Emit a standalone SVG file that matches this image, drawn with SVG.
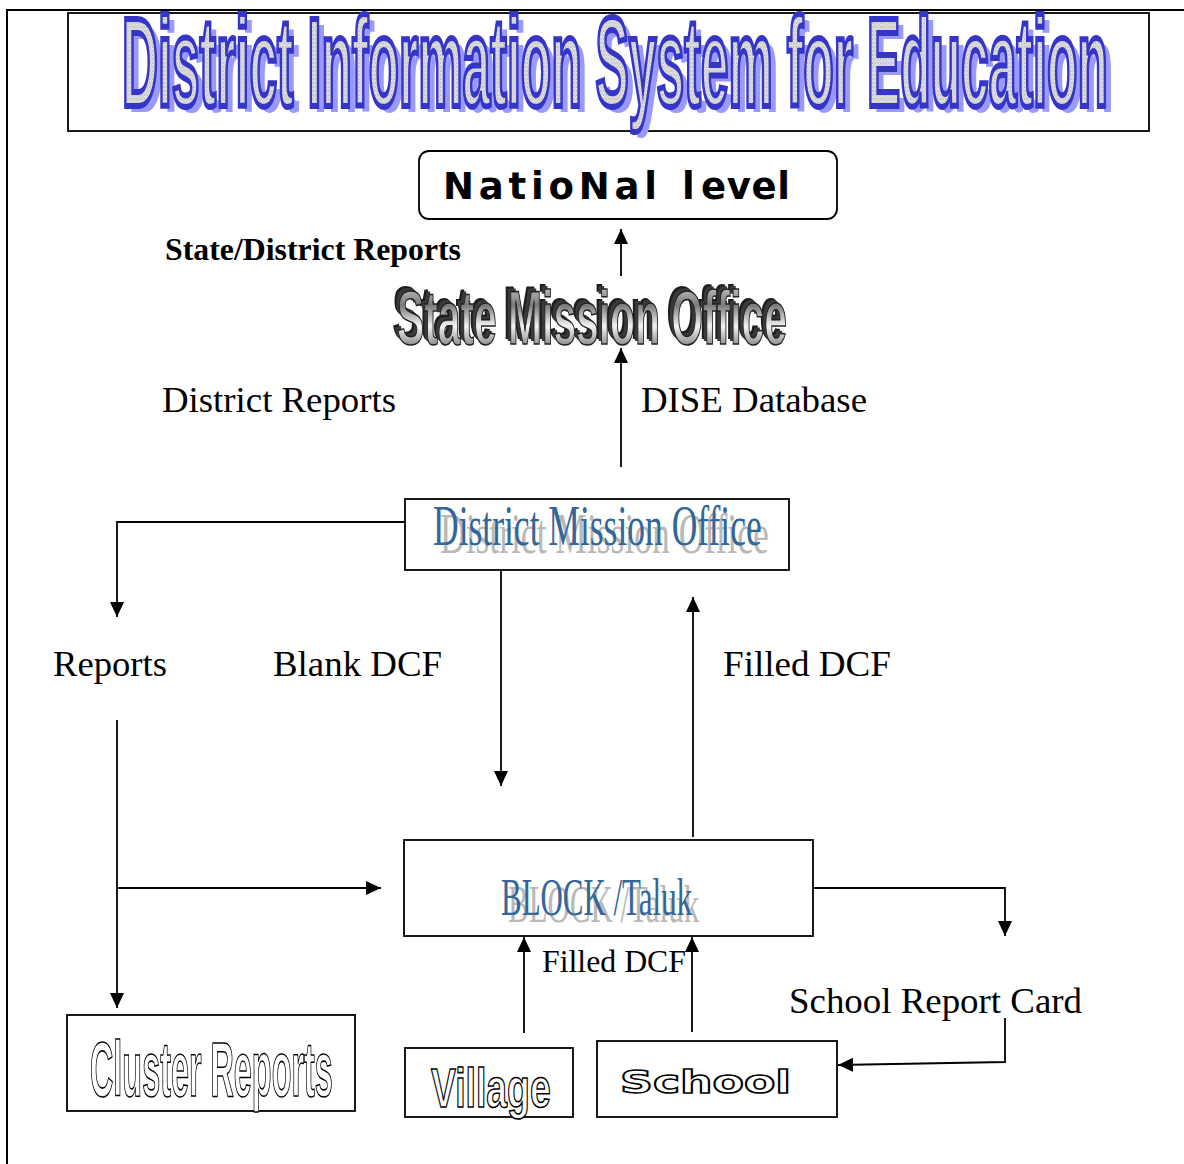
<svg xmlns="http://www.w3.org/2000/svg" width="1184" height="1164" viewBox="0 0 1184 1164">
<defs>
<marker id="ah" markerUnits="userSpaceOnUse" markerWidth="16" markerHeight="14" refX="15" refY="7" orient="auto">
<path d="M0,0 L15,7 L0,14 z" fill="#000"/>
</marker>
<pattern id="chk" width="4" height="4" patternUnits="userSpaceOnUse">
<rect width="4" height="4" fill="#e4e4e4"/>
<rect width="2" height="2" fill="#bdbdbd"/>
<rect x="2" y="2" width="2" height="2" fill="#cfcfcf"/>
</pattern>
<linearGradient id="metal" x1="0" y1="0" x2="0" y2="1">
<stop offset="0" stop-color="#e8e8e8"/>
<stop offset="0.35" stop-color="#7a7a7a"/>
<stop offset="0.6" stop-color="#f4f4f4"/>
<stop offset="1" stop-color="#3a3a3a"/>
</linearGradient>
</defs>
<style>
.box{fill:#fff;stroke:#000;stroke-width:1.8}
.arr{fill:none;stroke:#000;stroke-width:1.8;marker-end:url(#ah)}
.serif{font-family:"Liberation Serif","Times New Roman",serif;fill:#000}
.blue{font-family:"Liberation Serif","Times New Roman",serif;fill:#336699}
.shadow{font-family:"Liberation Serif","Times New Roman",serif;fill:#b9b9b9}
.outl{font-family:"Liberation Sans",Arial,sans-serif;font-weight:bold;fill:#fff;stroke:#000;stroke-width:1.6}
.ttl{font-family:"Liberation Sans",Arial,sans-serif;font-weight:bold;font-size:126px}
.smo{font-family:"Liberation Sans",Arial,sans-serif;font-weight:bold;font-size:76px}
</style>

<g id="frame">
<line x1="6" y1="10" x2="1184" y2="10" stroke="#000" stroke-width="2.2"/>
<line x1="7" y1="10" x2="7" y2="1164" stroke="#000" stroke-width="2"/>
</g>

<g id="title">
<rect x="68" y="13" width="1081" height="118" fill="#fff" stroke="#000" stroke-width="1.8"/>
<text transform="translate(128,112) scale(0.3956,1)" x="0" y="0" textLength="2492" lengthAdjust="spacingAndGlyphs" class="ttl" fill="#9999ff">District Information System for Education</text>
<text transform="translate(122,106) scale(0.3956,1)" x="0" y="0" textLength="2492" lengthAdjust="spacingAndGlyphs" class="ttl" fill="url(#chk)" stroke="#3535c8" stroke-width="6">District Information System for Education</text>
</g>

<g id="national">
<rect x="419" y="151" width="418" height="68" rx="10" ry="10" class="box"/>
<text y="199" font-family="DejaVu Sans, Verdana, sans-serif" font-weight="bold" font-size="37" fill="#000"><tspan x="443" textLength="214" lengthAdjust="spacing">NatioNal</tspan><tspan x="682">l</tspan><tspan x="701" textLength="89" lengthAdjust="spacing">evel</tspan></text>
</g>

<g id="state-mission">
<text transform="translate(392,339) scale(0.537,1)" textLength="726" lengthAdjust="spacingAndGlyphs" class="smo" fill="#1e1e1e">State Mission Office</text>
<text transform="translate(394,341) scale(0.537,1)" textLength="726" lengthAdjust="spacingAndGlyphs" class="smo" fill="#3a3a3a">State Mission Office</text>
<text transform="translate(397,344) scale(0.537,1)" textLength="726" lengthAdjust="spacingAndGlyphs" class="smo" fill="url(#metal)" stroke="#222" stroke-width="1.6">State Mission Office</text>
</g>

<g id="district-mission">
<rect x="405" y="499" width="384" height="71" class="box"/>
<text transform="translate(440,553) scale(0.611,1)" textLength="538" lengthAdjust="spacingAndGlyphs" font-size="58" class="shadow">District Mission Office</text>
<text transform="translate(433,545) scale(0.611,1)" textLength="538" lengthAdjust="spacingAndGlyphs" font-size="58" class="blue">District Mission Office</text>
</g>

<g id="block">
<rect x="404" y="840" width="409" height="96" class="box"/>
<text transform="translate(508,922) scale(0.588,1)" textLength="325" lengthAdjust="spacingAndGlyphs" font-size="52" class="shadow">BLOCK /Taluk</text>
<text transform="translate(501,915) scale(0.588,1)" textLength="325" lengthAdjust="spacingAndGlyphs" font-size="52" class="blue">BLOCK /Taluk</text>
</g>

<g id="cluster">
<rect x="67" y="1015" width="288" height="96" class="box"/>
<text transform="translate(90,1096) scale(0.415,1)" textLength="585" lengthAdjust="spacingAndGlyphs" font-size="78" class="outl" stroke-width="4.6">Cluster Reports</text>
</g>

<g id="village">
<rect x="405" y="1048" width="168" height="69" class="box"/>
<text transform="translate(431,1107) scale(0.665,1)" textLength="180" lengthAdjust="spacingAndGlyphs" font-size="56" class="outl" stroke-width="3">Village</text>
</g>

<g id="school">
<rect x="597" y="1041" width="240" height="76" class="box"/>
<text x="620" y="1093" textLength="171" lengthAdjust="spacingAndGlyphs" font-family="DejaVu Sans, Verdana, sans-serif" font-weight="bold" font-size="32" fill="#fff" stroke="#000" stroke-width="1.5">School</text>
</g>

<g id="labels">
<text x="165" y="260" textLength="296" lengthAdjust="spacingAndGlyphs" font-size="32" font-weight="bold" class="serif">State/District Reports</text>
<text x="162" y="412" textLength="234" lengthAdjust="spacingAndGlyphs" font-size="36" class="serif">District Reports</text>
<text x="641" y="412" textLength="226" lengthAdjust="spacingAndGlyphs" font-size="36" class="serif">DISE Database</text>
<text x="53" y="676" textLength="114" lengthAdjust="spacingAndGlyphs" font-size="36" class="serif">Reports</text>
<text x="273" y="676" textLength="169" lengthAdjust="spacingAndGlyphs" font-size="36" class="serif">Blank DCF</text>
<text x="723" y="676" textLength="168" lengthAdjust="spacingAndGlyphs" font-size="36" class="serif">Filled DCF</text>
<text x="542" y="972" textLength="144" lengthAdjust="spacingAndGlyphs" font-size="32" class="serif">Filled DCF</text>
<text x="789" y="1013" textLength="293" lengthAdjust="spacingAndGlyphs" font-size="35" class="serif">School Report Card</text>
</g>

<g id="connectors">
<line x1="621" y1="276" x2="621" y2="229" class="arr"/>
<line x1="621" y1="467" x2="621" y2="348" class="arr"/>
<polyline points="405,522 117,522 117,617" class="arr"/>
<line x1="501" y1="571" x2="501" y2="786" class="arr"/>
<line x1="693" y1="837" x2="693" y2="597" class="arr"/>
<line x1="117" y1="720" x2="117" y2="1008" class="arr"/>
<line x1="117" y1="888" x2="381" y2="888" class="arr"/>
<polyline points="813,888 1005,888 1005,936" class="arr"/>
<polyline points="1005,1018 1005,1062 838,1065" class="arr"/>
<line x1="524" y1="1033" x2="524" y2="937" class="arr"/>
<line x1="692" y1="1032" x2="692" y2="937" class="arr"/>
</g>
</svg>
